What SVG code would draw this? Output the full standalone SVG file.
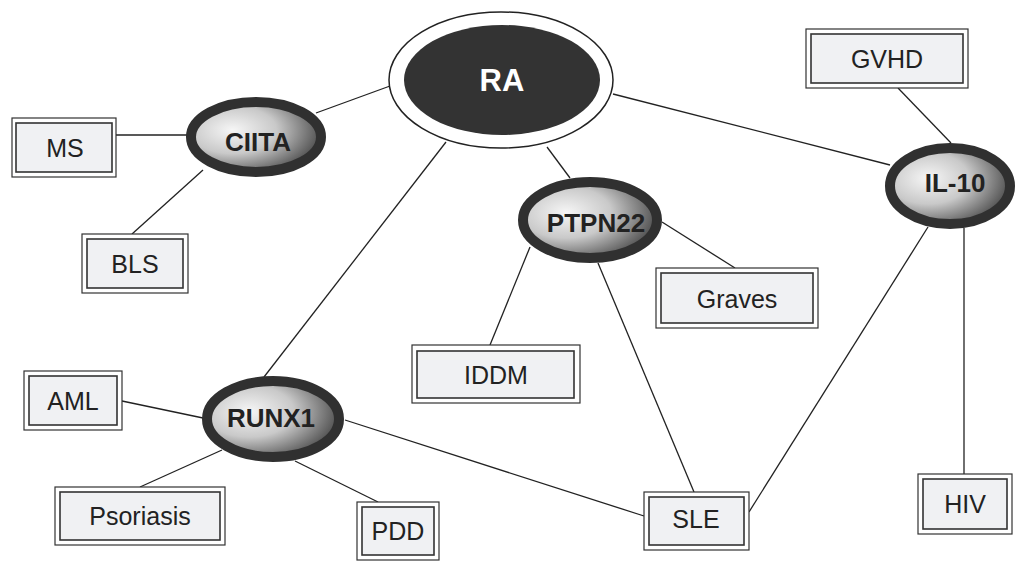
<svg xmlns="http://www.w3.org/2000/svg" width="1015" height="580" viewBox="0 0 1015 580">
<defs>
<radialGradient id="g" cx="32%" cy="40%" r="75%">
<stop offset="0" stop-color="#f6f6f6"/>
<stop offset="0.45" stop-color="#c9c9c9"/>
<stop offset="1" stop-color="#3a3a3a"/>
</radialGradient>
</defs>
<style>
.bg{fill:#fff}
.ln{stroke:#222;stroke-width:1.3;fill:none}
.gene{fill:url(#g);stroke:#303030;stroke-width:10}
.gt{font-family:"Liberation Sans",Arial,sans-serif;font-weight:bold;font-size:26px;fill:#222;text-anchor:middle}
.ro{fill:#fff;stroke:#333;stroke-width:1.2}
.ri{fill:#f0f1f3;stroke:#333;stroke-width:1.6}
.rt{font-family:"Liberation Sans",Arial,sans-serif;font-size:25px;fill:#222;text-anchor:middle}
</style>
<rect class="bg" width="1015" height="580"/>
<g id="connectors" class="ln">
<line x1="390" y1="86" x2="316" y2="113"/>
<line x1="613" y1="94" x2="890" y2="165"/>
<line x1="547" y1="147" x2="570" y2="178"/>
<line x1="446" y1="142" x2="264" y2="377"/>
<line x1="116" y1="135" x2="187" y2="135"/>
<line x1="203" y1="170" x2="132" y2="234"/>
<line x1="898" y1="88" x2="951" y2="143"/>
<line x1="964" y1="228" x2="964" y2="474"/>
<line x1="928" y1="227" x2="749" y2="512"/>
<line x1="598" y1="263" x2="694" y2="492"/>
<line x1="530" y1="247" x2="490" y2="345"/>
<line x1="662" y1="222" x2="735" y2="268"/>
<line x1="122" y1="401" x2="203" y2="418"/>
<line x1="222" y1="450" x2="140" y2="487"/>
<line x1="295" y1="461" x2="378" y2="502"/>
<line x1="345" y1="420" x2="644" y2="516"/>
</g>
<g id="RA">
<ellipse cx="501" cy="80" rx="112" ry="68" fill="#fff" stroke="#222" stroke-width="1.5"/>
<ellipse cx="502" cy="80" rx="98" ry="55" fill="#333"/>
<text x="502" y="91" font-family="Liberation Sans,Arial,sans-serif" font-weight="bold" font-size="31" fill="#fff" text-anchor="middle">RA</text>
</g>
<g id="CIITA">
<ellipse class="gene" cx="256" cy="137" rx="65" ry="35"/>
<text class="gt" x="258" y="151">CIITA</text>
</g>
<g id="PTPN22">
<ellipse class="gene" cx="590" cy="220" rx="67" ry="38"/>
<text class="gt" x="596" y="232" font-size="27">PTPN22</text>
</g>
<g id="IL-10">
<ellipse class="gene" cx="950" cy="186" rx="60" ry="38"/>
<text class="gt" x="955" y="192">IL-10</text>
</g>
<g id="RUNX1">
<ellipse class="gene" cx="273" cy="419" rx="66" ry="38"/>
<text class="gt" x="271" y="427">RUNX1</text>
</g>
<g id="GVHD">
<rect class="ro" x="806" y="29" width="162" height="59"/>
<rect class="ri" x="811" y="34" width="152" height="49"/>
<text class="rt" x="887" y="68">GVHD</text>
</g>
<g id="MS">
<rect class="ro" x="12" y="118" width="104" height="59"/>
<rect class="ri" x="16" y="123" width="96" height="49"/>
<text class="rt" x="65" y="157">MS</text>
</g>
<g id="BLS">
<rect class="ro" x="82" y="234" width="106" height="59"/>
<rect class="ri" x="87" y="239" width="96" height="49"/>
<text class="rt" x="135" y="273">BLS</text>
</g>
<g id="Graves">
<rect class="ro" x="656" y="268" width="162" height="60"/>
<rect class="ri" x="661" y="273" width="152" height="50"/>
<text class="rt" x="737" y="308">Graves</text>
</g>
<g id="IDDM">
<rect class="ro" x="412" y="345" width="168" height="58"/>
<rect class="ri" x="417" y="351" width="157" height="47"/>
<text class="rt" x="496" y="384">IDDM</text>
</g>
<g id="AML">
<rect class="ro" x="24" y="371" width="98" height="59"/>
<rect class="ri" x="29" y="376" width="88" height="49"/>
<text class="rt" x="73" y="410">AML</text>
</g>
<g id="Psoriasis">
<rect class="ro" x="55" y="487" width="170" height="58"/>
<rect class="ri" x="60" y="492" width="160" height="48"/>
<text class="rt" x="140" y="525">Psoriasis</text>
</g>
<g id="PDD">
<rect class="ro" x="357" y="502" width="82" height="58"/>
<rect class="ri" x="362" y="507" width="72" height="48"/>
<text class="rt" x="398" y="540">PDD</text>
</g>
<g id="SLE">
<rect class="ro" x="644" y="492" width="105" height="58"/>
<rect class="ri" x="649" y="497" width="95" height="48"/>
<text class="rt" x="696" y="528">SLE</text>
</g>
<g id="HIV">
<rect class="ro" x="918" y="474" width="94" height="60"/>
<rect class="ri" x="923" y="479" width="84" height="50"/>
<text class="rt" x="965" y="513">HIV</text>
</g>
</svg>
